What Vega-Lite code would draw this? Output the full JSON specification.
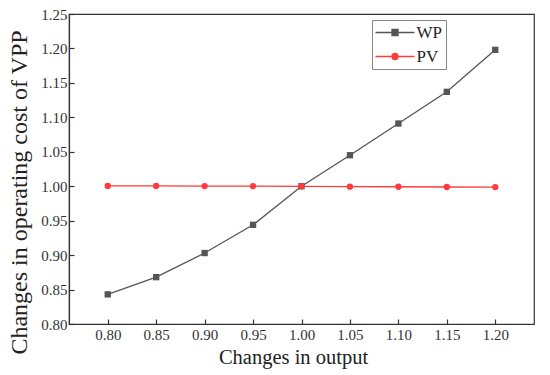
{
  "$schema": "https://vega.github.io/schema/vega-lite/v6.json",
  "width": 465,
  "height": 310,
  "autosize": "none",
  "padding": {"left": 69, "top": 14, "right": 16, "bottom": 51},
  "background": "white",
  "config": {
    "view": {"stroke": "#333", "strokeWidth": 1.2},
    "font": "Liberation Serif",
    "axis": {
      "grid": false,
      "domainColor": "#333",
      "domainWidth": 1.2,
      "tickColor": "#333",
      "tickWidth": 1.2,
      "tickSize": -5,
      "labelFont": "Liberation Serif",
      "labelFontSize": 15,
      "labelColor": "#333",
      "titleFont": "Liberation Serif",
      "titleFontWeight": "normal",
      "titleColor": "#222",
      "titleFontSize": 20
    }
  },
  "data": {
    "values": [
      {"x": 0.80, "y": 0.843, "s": "WP"},
      {"x": 0.85, "y": 0.868, "s": "WP"},
      {"x": 0.90, "y": 0.903, "s": "WP"},
      {"x": 0.95, "y": 0.944, "s": "WP"},
      {"x": 1.00, "y": 1.000, "s": "WP"},
      {"x": 1.05, "y": 1.045, "s": "WP"},
      {"x": 1.10, "y": 1.091, "s": "WP"},
      {"x": 1.15, "y": 1.137, "s": "WP"},
      {"x": 1.20, "y": 1.198, "s": "WP"},
      {"x": 0.80, "y": 1.0005, "s": "PV"},
      {"x": 0.85, "y": 1.0004, "s": "PV"},
      {"x": 0.90, "y": 1.0002, "s": "PV"},
      {"x": 0.95, "y": 1.0001, "s": "PV"},
      {"x": 1.00, "y": 0.9999, "s": "PV"},
      {"x": 1.05, "y": 0.9994, "s": "PV"},
      {"x": 1.10, "y": 0.9992, "s": "PV"},
      {"x": 1.15, "y": 0.9989, "s": "PV"},
      {"x": 1.20, "y": 0.9988, "s": "PV"}
    ]
  },
  "encoding": {
    "x": {
      "field": "x", "type": "quantitative",
      "scale": {"domain": [0.76, 1.24], "nice": false, "zero": false},
      "axis": {"values": [0.8, 0.85, 0.9, 0.95, 1.0, 1.05, 1.1, 1.15, 1.2], "format": ".2f", "labelFont": "Liberation Serif", "labelPadding": 8, "title": "Changes in output", "titleFont": "Liberation Serif", "titleFontSize": 20.5, "titlePadding": 5, "titleX": 224}
    },
    "y": {
      "field": "y", "type": "quantitative",
      "scale": {"domain": [0.8, 1.25], "nice": false, "zero": false},
      "axis": {"values": [0.8, 0.85, 0.9, 0.95, 1.0, 1.05, 1.1, 1.15, 1.2, 1.25], "format": ".2f", "labelFont": "Liberation Serif", "labelPadding": 7, "title": "Changes in operating cost of VPP", "titleFont": "Liberation Serif", "titleFontSize": 24, "titlePadding": 9, "titleY": 178}
    },
    "color": {
      "field": "s", "type": "nominal",
      "scale": {"domain": ["WP", "PV"], "range": ["#555555", "#ff3b3b"]}
    }
  },
  "layer": [
    {
      "mark": {"type": "line", "strokeWidth": 1.3},
      "encoding": {
        "color": {
          "field": "s", "type": "nominal",
          "scale": {"domain": ["WP", "PV"], "range": ["#555555", "#ff3b3b"]},
          "legend": {
            "title": null,
            "orient": "none",
            "legendX": 303,
            "legendY": 6,
            "direction": "vertical",
            "strokeColor": "#888",
            "padding": 4,
            "labelFont": "Liberation Serif",
            "labelFontSize": 17,
            "labelColor": "#222",
            "symbolSize": 100,
            "symbolOffset": 10.5,
            "labelOffset": 13,
            "symbolStrokeWidth": 1.3,
            "symbolType": "M-3.9,0H3.9M-0.6,-0.6H0.6V0.6H-0.6Z",
            "rowPadding": 6,
            "encode": {
              "symbols": {
                "update": {
                  "shape": {"signal": "datum.value === 'WP' ? 'M-3.9,0H3.9M-0.6,-0.6H0.6V0.6H-0.6Z' : 'M-3.9,0H3.9M0.6,0A0.6,0.6 0 1,1 -0.6,0A0.6,0.6 0 1,1 0.6,0Z'"},
                  "fill": {"signal": "datum.value === 'WP' ? '#555555' : '#ff3b3b'"},
                  "stroke": {"signal": "datum.value === 'WP' ? '#555555' : '#ff3b3b'"},
                  "opacity": {"value": 1}
                }
              }
            }
          }
        }
      }
    },
    {
      "transform": [{"filter": "datum.s === 'WP'"}],
      "mark": {"type": "point", "shape": "square", "filled": true, "size": 40, "opacity": 1},
      "encoding": {"color": {"field": "s", "type": "nominal", "legend": null}}
    },
    {
      "transform": [{"filter": "datum.s === 'PV'"}],
      "mark": {"type": "point", "shape": "circle", "filled": true, "size": 40, "opacity": 1},
      "encoding": {"color": {"field": "s", "type": "nominal", "legend": null}}
    }
  ]
}
